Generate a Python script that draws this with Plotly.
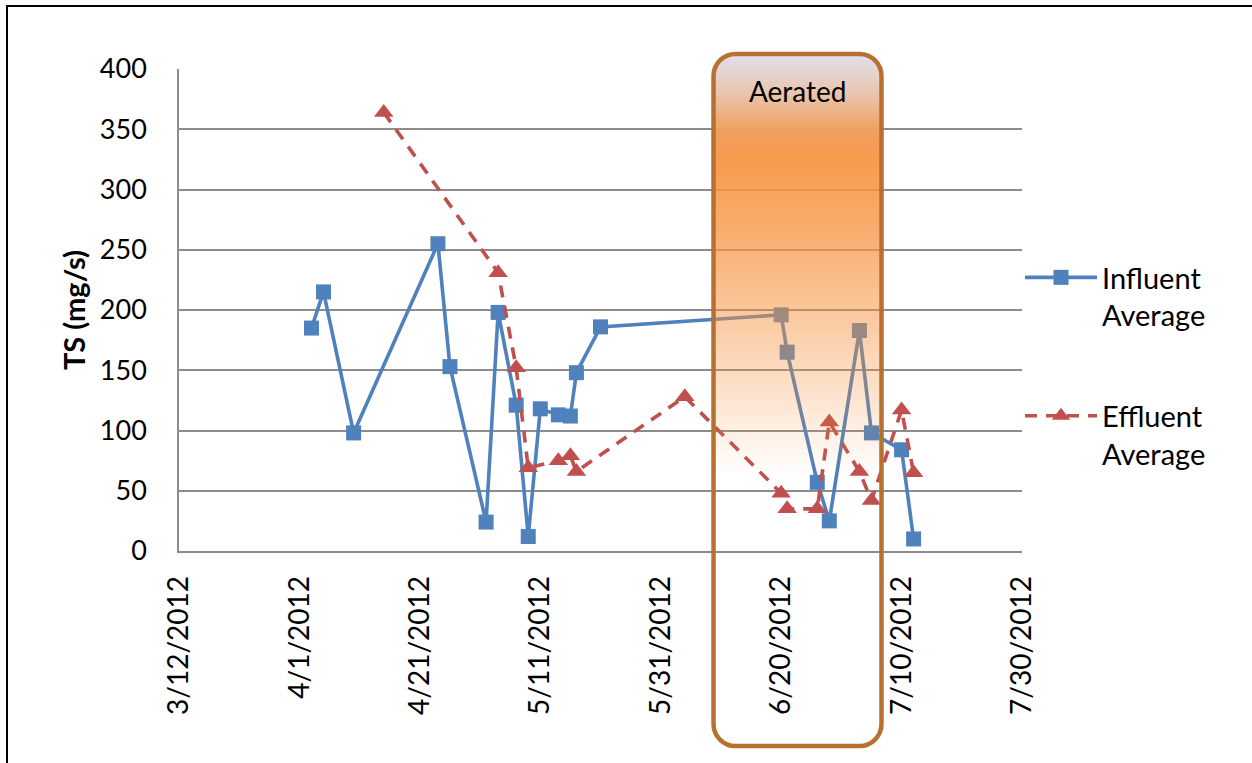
import math
from datetime import datetime
import plotly.graph_objects as go

# ---------------- data ----------------
influent_dates = ["2012-04-03", "2012-04-05", "2012-04-10", "2012-04-24", "2012-04-26",
                  "2012-05-02", "2012-05-04", "2012-05-07", "2012-05-09", "2012-05-11",
                  "2012-05-14", "2012-05-16", "2012-05-17", "2012-05-21", "2012-06-20",
                  "2012-06-21", "2012-06-26", "2012-06-28", "2012-07-03", "2012-07-05",
                  "2012-07-10", "2012-07-12"]
influent_ts = [185, 215, 98, 255, 153, 24, 198, 121, 12, 118, 113, 112, 148, 186,
               196, 165, 57, 25, 183, 98, 84, 10]

effluent_dates = ["2012-04-15", "2012-05-04", "2012-05-07", "2012-05-09", "2012-05-14",
                  "2012-05-16", "2012-05-17", "2012-06-04", "2012-06-20", "2012-06-21",
                  "2012-06-26", "2012-06-28", "2012-07-03", "2012-07-05", "2012-07-10",
                  "2012-07-12"]
effluent_ts = [364, 231, 152, 69, 75, 79, 66, 128, 48, 35, 35, 107, 66, 42, 117, 65]

series_names = ["Influent<br>Average", "Effluent<br>Average"]
x_range = ["2012-03-12", "2012-07-30"]
y_ticks = [0, 50, 100, 150, 200, 250, 300, 350, 400]
aerated_period = ["2012-06-08 18:30", "2012-07-06 16:00"]
aerated_label = "Aerated"

# ---------------- geometry helpers ----------------
W, H = 1252, 763
PL, PR, PT, PB = 179, 1022, 69, 551
X0 = datetime.fromisoformat(x_range[0])
X1 = datetime.fromisoformat(x_range[1])
SPAN_DAYS = (X1 - X0).total_seconds() / 86400


def date_px(s):
    d = (datetime.fromisoformat(s) - X0).total_seconds() / 86400
    return PL + d * (PR - PL) / SPAN_DAYS


def fx(px):
    return (px - PL) / (PR - PL)


def fy(py):
    return (PB - py) / (PB - PT)


FONT = "Lato"
GRID = "#8C8C8C"
BLUE = "#4F81BD"
RED = "#C0504D"

fig = go.Figure()
fig.add_trace(go.Scatter(
    x=influent_dates, y=influent_ts, name=series_names[0], mode="lines+markers",
    line=dict(color=BLUE, width=3.6),
    marker=dict(symbol="square", size=15, color=BLUE),
    legendgroup="a"))
fig.add_trace(go.Scatter(
    x=effluent_dates, y=effluent_ts, name=series_names[1], mode="lines+markers",
    line=dict(color=RED, width=3.6, dash="12px,9px"),
    marker=dict(symbol="triangle-up", size=17, color=RED),
    legendgroup="b"))

# ---------------- aerated box (gradient overlay) ----------------
L = date_px(aerated_period[0])
R = date_px(aerated_period[1])
T, B, RAD = 54, 746, 22
stops = [  # pixel y, r, g, b, alpha
    (55, 226, 224, 234, 1.0),
    (90, 233, 200, 182, 1.0),
    (130, 242, 160, 96, 1.0),
    (160, 246, 146, 62, 0.92),
    (250, 246, 146, 62, 0.70),
    (330, 246, 146, 62, 0.45),
    (400, 246, 146, 62, 0.24),
    (470, 246, 146, 62, 0.02),
]


def grad(py):
    if py <= stops[0][0]:
        return stops[0][1:]
    for a, b in zip(stops, stops[1:]):
        if a[0] <= py <= b[0]:
            t = (py - a[0]) / (b[0] - a[0])
            return tuple(a[i] + t * (b[i] - a[i]) for i in range(1, 5))
    return stops[-1][1:]


shapes = []
step = 2
for y0 in range(T, 472, step):
    yc = y0 + step / 2
    dy = yc - T
    inset = 0.0
    if dy < RAD:
        inset = RAD - math.sqrt(max(RAD ** 2 - (RAD - dy) ** 2, 0))
    r, g, b, a = grad(yc)
    shapes.append(dict(
        type="rect", xref="paper", yref="paper", layer="above",
        x0=fx(L + inset), x1=fx(R - inset), y0=fy(y0 + step), y1=fy(y0),
        fillcolor=f"rgba({int(r)},{int(g)},{int(b)},{a:.3f})", line=dict(width=0)))

k = 0.5523 * RAD


def P(px, py):
    return f"{fx(px):.6f},{fy(py):.6f}"


path = (f"M{P(L + RAD, T)} L{P(R - RAD, T)} "
        f"C{P(R - RAD + k, T)} {P(R, T + RAD - k)} {P(R, T + RAD)} "
        f"L{P(R, B - RAD)} "
        f"C{P(R, B - RAD + k)} {P(R - RAD + k, B)} {P(R - RAD, B)} "
        f"L{P(L + RAD, B)} "
        f"C{P(L + RAD - k, B)} {P(L, B - RAD + k)} {P(L, B - RAD)} "
        f"L{P(L, T + RAD)} "
        f"C{P(L, T + RAD - k)} {P(L + RAD - k, T)} {P(L + RAD, T)} Z")
shapes.append(dict(type="path", xref="paper", yref="paper", layer="above", path=path,
                   line=dict(color="#B87030", width=4.5), fillcolor="rgba(0,0,0,0)"))

# outer chart frame
shapes.append(dict(type="rect", xref="paper", yref="paper", layer="above",
                   x0=fx(7), x1=fx(1262), y0=fy(775), y1=fy(6),
                   line=dict(color="black", width=2), fillcolor="rgba(0,0,0,0)"))

fig.update_layout(
    width=W, height=H, autosize=False,
    margin=dict(l=PL, r=W - PR, t=PT, b=H - PB, pad=0),
    paper_bgcolor="white", plot_bgcolor="white",
    font=dict(family=FONT, size=27, color="black"),
    shapes=shapes,
    annotations=[dict(text=aerated_label, xref="paper", yref="paper",
                      x=fx((L + R) / 2), y=fy(91), xanchor="center", yanchor="middle",
                      showarrow=False, font=dict(size=28, color="black"))],
    legend=dict(x=fx(1020), xanchor="left", y=fy(252), yanchor="top",
                font=dict(size=29), valign="top", traceorder="grouped",
                tracegroupgap=60, itemwidth=72, bgcolor="rgba(0,0,0,0)"),
    xaxis=dict(type="date", range=x_range, tick0=x_range[0], dtick=20 * 86400000,
               tickformat="%-m/%-d/%Y", tickangle=-90, showgrid=False,
               showline=True, linecolor=GRID, linewidth=1.5, ticks="",
               ticklabelstandoff=12, zeroline=False,
               tickfont=dict(size=28)),
    yaxis=dict(range=[0, 400], tickvals=y_ticks, showgrid=True, gridcolor=GRID,
               gridwidth=1.5, showline=True, linecolor=GRID, linewidth=1.5,
               zeroline=False, ticks="", ticklabelstandoff=25,
               tickfont=dict(size=27),
               title=dict(text="TS (mg/s)", font=dict(size=29, weight="bold"),
                          standoff=6)),
)

fig.write_html("out.html", config={"displayModeBar": False},
               post_script="document.body.style.margin='0';")
